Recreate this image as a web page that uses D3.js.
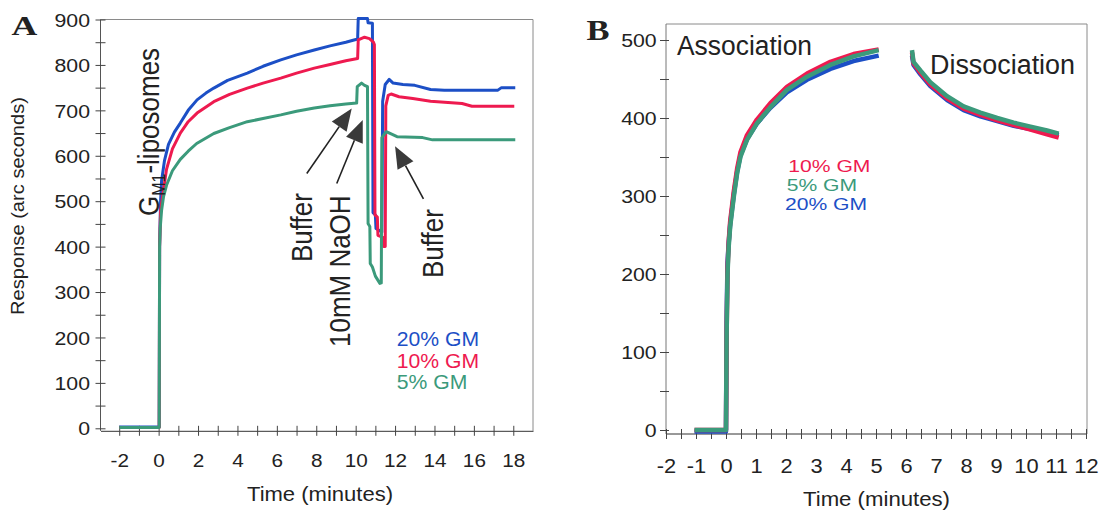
<!DOCTYPE html>
<html>
<head>
<meta charset="utf-8">
<script src="https://cdn.jsdelivr.net/npm/d3@7"></script>
<style>
  html, body { margin: 0; padding: 0; background: #fff; }
  svg { display: block; }
  text { font-family: "Liberation Sans", Arial, Helvetica, sans-serif; fill: #222; }
</style>
</head>
<body>
<svg id="chart" width="1105" height="511"></svg>
<script>
// ---------------- Data ----------------
const seriesNames = ["20% GM", "10% GM", "5% GM"];
const seriesColors = { "20% GM": "#1c4fc6", "10% GM": "#ee1a4f", "5% GM": "#3b9a7b" };

// Panel A: [time (min), response (arc s)]
const gm20A = [[-2,3],[0.03,3],[0.05,400],[0.07,445],[0.1,500],[0.15,545],[0.3,590],[0.5,625],[0.8,652],[1.1,672],[1.5,700],[1.95,723],[2.4,738],[2.8,749],[3.5,766],[4.5,782],[5.3,797],[6.2,811],[7.0,822],[7.9,833],[8.7,842],[9.5,850],[10.1,857],[10.13,902],[10.6,902],[10.63,893],[10.85,892],[10.88,475],[11.0,470],[11.03,440],[11.33,432],[11.37,720],[11.5,757],[11.7,768],[11.9,760],[12.4,757],[13.0,755],[13.8,746],[14.5,744],[17.2,744],[17.4,750],[18.1,750]];
const gm10A = [[-2,2],[0.03,2],[0.05,400],[0.1,480],[0.2,510],[0.4,570],[0.7,615],[1.1,650],[1.5,675],[1.95,694],[2.8,719],[3.6,735],[4.5,749],[5.3,760],[6.2,771],[7.0,782],[7.9,793],[8.7,801],[9.5,809],[10.1,814],[10.13,855],[10.45,861],[10.7,858],[10.9,850],[10.95,845],[10.98,470],[11.1,465],[11.13,425],[11.4,420],[11.43,400],[11.5,400],[11.53,710],[11.65,733],[11.8,736],[12.2,730],[12.9,726],[13.8,720],[15.4,715],[15.9,709],[18.05,709]];
const gm5A = [[-2,2],[0.03,2],[0.05,400],[0.08,440],[0.15,480],[0.25,510],[0.4,535],[0.7,567],[1.1,592],[1.5,610],[1.93,627],[2.8,649],[3.6,662],[4.5,675],[5.3,682],[6.2,690],[7.0,698],[7.9,705],[8.7,710],[9.5,714],[10.05,716],[10.08,752],[10.3,760],[10.45,755],[10.6,752],[10.63,451],[10.72,444],[10.74,363],[10.85,355],[11.0,335],[11.23,319],[11.3,320],[11.33,640],[11.55,653],[11.8,648],[12.1,642],[13.4,640],[13.9,635],[18.1,635]];

const xTicksA = [-2, 0, 2, 4, 6, 8, 10, 12, 14, 16, 18];
const yTicksA = [0, 100, 200, 300, 400, 500, 600, 700, 800, 900];

// Panel B: association and dissociation phases
const tAssocB = [-1.05, 0, 0.02, 0.05, 0.09, 0.14, 0.26, 0.37, 0.48, 0.7, 1.03, 1.48, 2.03, 2.7, 3.48, 4.25, 5.09];
const gm20AssocB = [-2, -2, 140, 215, 240, 264, 302, 331, 352, 373, 393, 413, 433, 449, 463, 473, 480];
const gm10AssocB = [0, 0, 120, 205, 242, 268, 306, 335, 356, 378, 398, 419, 440, 457, 472, 482, 488];
const gm5AssocB  = [0, 0, 120, 200, 235, 261, 299, 329, 350, 372, 393, 414, 436, 453, 468, 479, 487];

const tDissB = [6.2, 6.25, 6.48, 6.81, 7.37, 7.92, 8.48, 9.04, 9.59, 10.15, 10.7, 11.09];
const gm20DissB = [480, 468, 456, 441, 423, 410, 402, 396, 390, 386, 382, 378];
const gm10DissB = [484, 470, 458, 443, 425, 412, 404, 397, 391, 385, 379, 375];
const gm5DissB  = [487, 472, 461, 446, 428, 415, 407, 400, 394, 389, 384, 380];

const xTicksB = [-2, -1, 0, 1, 2, 3, 4, 5, 6, 7, 8, 9, 10, 11, 12];
const yTicksB = [0, 100, 200, 300, 400, 500];

// Injection annotations for panel A: arrows from label to trace, [time, response]
const arrowsA = [
  { from: [7.52, 561], to: [9.80, 704] },
  { from: [9.04, 539], to: [10.36, 679] },
  { from: [13.44, 505], to: [12.0, 621] }
];

// ---------------- Drawing ----------------
const svg = d3.select("#chart");
const zip = (ts, vs) => ts.map((t, i) => [t, vs[i]]);

function styleLeftTicks(g, gap, fs, sx, labels) {
  g.attr("font-size", null).attr("font-family", null);
  g.select(".domain").remove();
  g.selectAll(".tick line").attr("x1", 5).attr("x2", -5).attr("stroke", "#444");
  g.selectAll(".tick text")
    .attr("x", 0).attr("dy", "0.36em")
    .attr("text-anchor", "end")
    .style("font-size", fs + "px")
    .attr("transform", `translate(${-gap},0) scale(${sx},1)`)
    .text(d => labels.includes(d) ? String(d) : "");
}
function styleBottomTicks(g, off, fs, sx, labels) {
  g.attr("font-size", null).attr("font-family", null);
  g.select(".domain").attr("stroke", "#333");
  g.selectAll(".tick line").attr("y1", -5).attr("y2", 5).attr("stroke", "#444");
  g.selectAll(".tick text")
    .attr("y", 0).attr("dy", 0)
    .style("font-size", fs + "px")
    .attr("transform", `translate(0,${off}) scale(${sx},1)`)
    .text(d => labels.includes(d) ? String(d) : "");
}
function hText(g, x, y, str, fs, opts = {}) {
  const t = g.append("text")
    .attr("transform", `translate(${x},${y}) scale(${opts.sx || 1},1)`)
    .attr("text-anchor", opts.anchor || "start")
    .style("font-size", fs + "px")
    .text(str);
  if (opts.fill) t.style("fill", opts.fill);
  if (opts.family) t.style("font-family", opts.family);
  if (opts.weight) t.style("font-weight", opts.weight);
  if (opts.len) t.attr("textLength", opts.len).attr("lengthAdjust", "spacingAndGlyphs");
  return t;
}
function vText(g, x, y, str, fs, sy, anchor) {
  return g.append("text")
    .attr("transform", `translate(${x},${y}) rotate(-90) scale(1,${sy})`)
    .attr("text-anchor", anchor || "start")
    .style("font-size", fs + "px")
    .text(str);
}

// ===== Panel A =====
const gA = svg.append("g");
const xA = d3.scaleLinear().domain([-2.95, 19]).range([100.5, 533]);
const yA = d3.scaleLinear().domain([0, 900]).range([428.3, 19.5]);
const axisYA = yA(0) + 2.5;

// frame (top and right)
gA.append("path")
  .attr("d", `M${xA.range()[0]},${yA(900)}H${xA.range()[1]}V${axisYA}`)
  .attr("fill", "none").attr("stroke", "#8a8a8a").attr("stroke-width", 1);
gA.append("line")
  .attr("x1", xA.range()[0]).attr("x2", xA.range()[0])
  .attr("y1", axisYA).attr("y2", yA(900))
  .attr("stroke", "#555").attr("stroke-width", 1);

const gyA = gA.append("g").attr("transform", `translate(${xA.range()[0]},0)`)
  .call(d3.axisLeft(yA).tickValues(d3.range(0, 901, 50)).tickSize(5));
styleLeftTicks(gyA, 10.5, 18.5, 1.15, yTicksA);

const gxA = gA.append("g").attr("transform", `translate(0,${axisYA})`)
  .call(d3.axisBottom(xA).tickValues(d3.range(-2, 18.5, 1)).tickSize(5).tickSizeOuter(0));
styleBottomTicks(gxA, 36, 18.5, 1.12, xTicksA);

const lineA = d3.line().x(d => xA(d[0])).y(d => yA(d[1]));
[["20% GM", gm20A], ["10% GM", gm10A], ["5% GM", gm5A]].forEach(([name, data]) => {
  gA.append("path").datum(data)
    .attr("d", lineA)
    .attr("fill", "none")
    .attr("stroke", seriesColors[name])
    .attr("stroke-width", 3)
    .attr("stroke-linejoin", "round");
});

// arrows
arrowsA.forEach(a => {
  const p0 = [xA(a.from[0]), yA(a.from[1])];
  const p1 = [xA(a.to[0]), yA(a.to[1])];
  const dx = p1[0] - p0[0], dy = p1[1] - p0[1];
  const L = Math.hypot(dx, dy), ux = dx / L, uy = dy / L;
  const hl = 22, hw = 9;
  const b = [p1[0] - ux * hl, p1[1] - uy * hl];
  gA.append("line")
    .attr("x1", p0[0]).attr("y1", p0[1]).attr("x2", b[0]).attr("y2", b[1])
    .attr("stroke", "#222").attr("stroke-width", 1.6);
  gA.append("path")
    .attr("d", `M${p1[0]},${p1[1]}L${b[0] - uy * hw},${b[1] + ux * hw}L${b[0] + uy * hw},${b[1] - ux * hw}Z`)
    .attr("fill", "#3a3a3a");
});

// texts of panel A
hText(gA, 11.5, 35, "A", 27.5, { sx: 1.3, family: "'Liberation Serif','Times New Roman',serif", weight: "bold" });
vText(gA, 24, 206, "Response (arc seconds)", 19, 1.0, "middle").attr("textLength", 218).attr("lengthAdjust", "spacingAndGlyphs");
hText(gA, 320, 501, "Time (minutes)", 20, { anchor: "middle", len: 146 });

const gm1 = vText(gA, 159, 216, "", 26, 1.15);
gm1.append("tspan").text("G");
gm1.append("tspan").attr("dy", 5).style("font-size", "16px").text("M1");
gm1.append("tspan").attr("dy", -5).text("-liposomes");

vText(gA, 311.5, 262, "Buffer", 26, 1.15);
vText(gA, 349.5, 347, "10mM NaOH", 26, 1.15);
vText(gA, 443, 278, "Buffer", 26, 1.15);

const legA = [["20% GM", 346], ["10% GM", 368.3], ["5% GM", 389.3]];
legA.forEach(([name, y]) => hText(gA, 396.7, y, name, 20, { sx: 1.06, fill: seriesColors[name] }));

// ===== Panel B =====
const gB = svg.append("g");
const xB = d3.scaleLinear().domain([-2, 12]).range([666, 1086]);
const yB = d3.scaleLinear().domain([0, 500]).range([430, 40]);
const axisYB = yB(0) + 4;
const topB = 24, rightB = 1087;

gB.append("path")
  .attr("d", `M${xB(-2)},${topB}H${rightB}V${axisYB}`)
  .attr("fill", "none").attr("stroke", "#8a8a8a").attr("stroke-width", 1);
gB.append("line")
  .attr("x1", xB(-2)).attr("x2", xB(-2)).attr("y1", axisYB).attr("y2", topB)
  .attr("stroke", "#777").attr("stroke-width", 1);

const gyB = gB.append("g").attr("transform", `translate(${xB(-2)},0)`)
  .call(d3.axisLeft(yB).tickValues(d3.range(0, 501, 50)).tickSize(6));
styleLeftTicks(gyB, 9.3, 18.5, 1.15, yTicksB);
gyB.selectAll(".tick line").attr("x1", 3).attr("x2", -6);

const gxB = gB.append("g").attr("transform", `translate(0,${axisYB})`)
  .call(d3.axisBottom(xB).tickValues(d3.range(-2, 12.01, 0.5)).tickSize(5).tickSizeOuter(0));
styleBottomTicks(gxB, 38.5, 19.5, 1.12, xTicksB);
gxB.select(".domain").attr("d", `M${xB(-2)},0H${rightB}`);

const lineB = d3.line().x(d => xB(d[0])).y(d => yB(d[1]));
const phasesB = [
  ["20% GM", zip(tAssocB, gm20AssocB), zip(tDissB, gm20DissB)],
  ["10% GM", zip(tAssocB, gm10AssocB), zip(tDissB, gm10DissB)],
  ["5% GM",  zip(tAssocB, gm5AssocB),  zip(tDissB, gm5DissB)]
];
phasesB.forEach(([name, assoc, diss]) => {
  [assoc, diss].forEach(data => {
    gB.append("path").datum(data)
      .attr("d", lineB)
      .attr("fill", "none")
      .attr("stroke", seriesColors[name])
      .attr("stroke-width", 4.5)
      .attr("stroke-linejoin", "round");
  });
});

hText(gB, 586.5, 40, "B", 30, { sx: 1.15, family: "'Liberation Serif','Times New Roman',serif", weight: "bold" });
hText(gB, 876.5, 506, "Time (minutes)", 20, { anchor: "middle", len: 147 });
hText(gB, 677, 55, "Association", 27, { len: 135 });
hText(gB, 930, 74, "Dissociation", 27, { len: 145 });

// stacked legend of panel B (tight line spacing)
const legB = [["10% GM", 788.3, 172], ["5% GM", 786.7, 191], ["20% GM", 785, 210]];
legB.forEach(([name, x, y]) => hText(gB, x, y, name, 16.5, { sx: 1.28, fill: seriesColors[name] }));
</script>
</body>
</html>
